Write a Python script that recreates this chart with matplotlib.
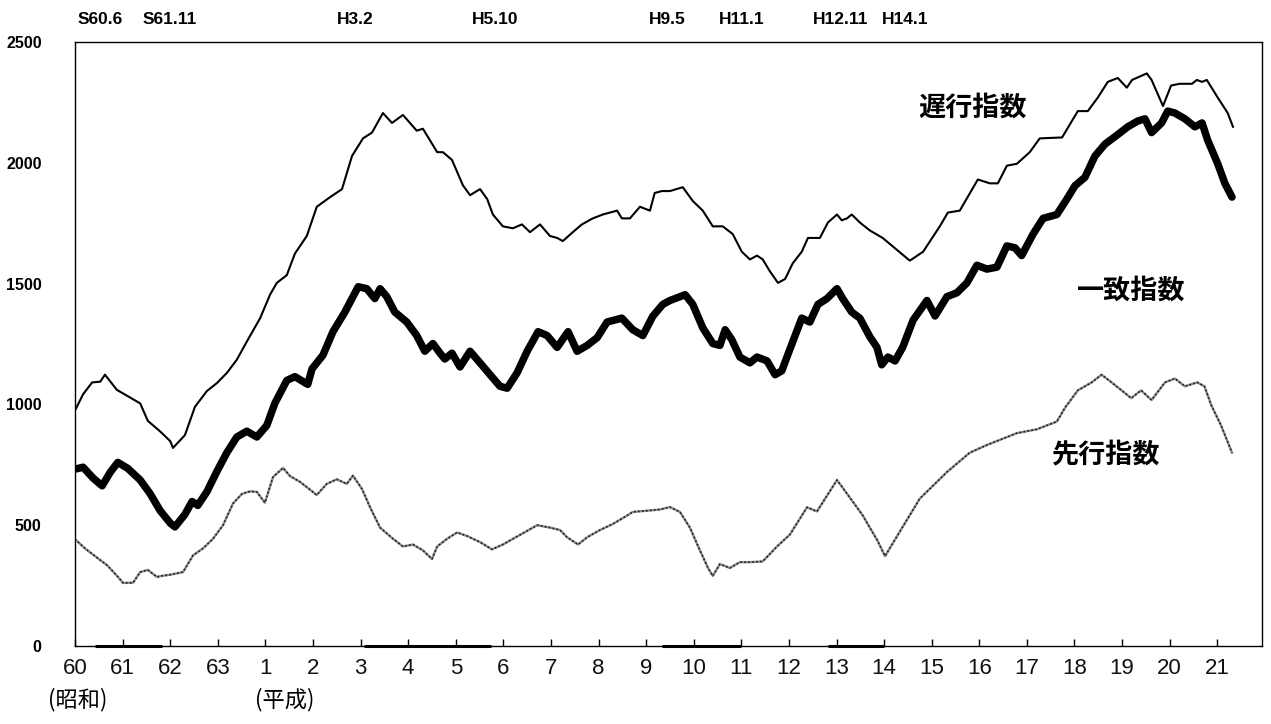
import matplotlib
matplotlib.use('Agg')
import matplotlib.pyplot as plt

plt.rcParams['font.family'] = ['Liberation Sans', 'Noto Sans CJK JP', 'DejaVu Sans']
CJK = ['Noto Sans CJK JP', 'DejaVu Sans']

# x = years elapsed since S60.1 (Jan 1985)
year_labels = ['60', '61', '62', '63', '1', '2', '3', '4', '5', '6', '7', '8', '9',
               '10', '11', '12', '13', '14', '15', '16', '17', '18', '19', '20', '21']

# 遅行指数 (lagging)
lag_t = [0.00, 0.17, 0.36, 0.53, 0.63, 0.88, 1.11, 1.37, 1.53, 1.79, 2.00, 2.06, 2.31, 2.52,
         2.77, 2.98, 3.19, 3.40, 3.61, 3.89, 4.10, 4.24, 4.45, 4.62, 4.87, 5.08, 5.36, 5.61,
         5.82, 6.05, 6.24, 6.47, 6.66, 6.89, 7.18, 7.31, 7.61, 7.73, 7.92, 8.15, 8.30, 8.51,
         8.66, 8.78, 8.99, 9.20, 9.39, 9.56, 9.77, 9.98, 10.13, 10.25, 10.46, 10.65, 10.88,
         11.09, 11.39, 11.49, 11.66, 11.87, 12.08, 12.18, 12.33, 12.50, 12.77, 12.98, 13.19,
         13.40, 13.61, 13.82, 14.01, 14.18, 14.33, 14.45, 14.60, 14.77, 14.92, 15.08, 15.27,
         15.40, 15.65, 15.82, 16.01, 16.11, 16.22, 16.32, 16.49, 16.70, 16.97, 17.54, 17.82,
         18.17, 18.34, 18.59, 18.97, 19.22, 19.39, 19.58, 19.79, 20.06, 20.27, 20.74, 21.07,
         21.28, 21.49, 21.70, 21.91, 22.10, 22.21, 22.52, 22.62, 22.86, 23.03, 23.21, 23.47,
         23.57, 23.68, 23.78, 24.01, 24.22, 24.33]
lag_v = [975, 1042, 1091, 1094, 1123, 1060, 1034, 1004, 932, 888, 848, 820, 873, 990,
         1055, 1088, 1130, 1185, 1260, 1357, 1455, 1503, 1535, 1624, 1697, 1818, 1858, 1891,
         2028, 2101, 2125, 2206, 2165, 2198, 2133, 2141, 2044, 2044, 2012, 1907, 1866, 1891,
         1850, 1786, 1737, 1729, 1745, 1713, 1745, 1697, 1689, 1676, 1713, 1745, 1770,
         1786, 1802, 1770, 1770, 1818, 1802, 1875, 1883, 1883, 1899, 1842, 1802,
         1737, 1737, 1705, 1632, 1600, 1616, 1600, 1551, 1503, 1519, 1584, 1632,
         1689, 1689, 1753, 1786, 1762, 1770, 1786, 1753, 1720, 1689, 1595, 1632,
         1737, 1794, 1802, 1931, 1915, 1915, 1988, 1996, 2044, 2101, 2105, 2214,
         2214, 2270, 2335, 2351, 2311, 2343, 2370, 2343, 2235, 2320, 2327, 2327,
         2343, 2335, 2343, 2270, 2206, 2149]

# 一致指数 (coincident)
coin_t = [0.00, 0.17, 0.38, 0.57, 0.74, 0.90, 1.11, 1.37, 1.58, 1.79, 2.00, 2.10, 2.31, 2.46,
          2.58, 2.77, 2.98, 3.19, 3.40, 3.61, 3.82, 4.03, 4.20, 4.45, 4.62, 4.89, 4.98, 5.21,
          5.42, 5.67, 5.95, 6.13, 6.30, 6.41, 6.55, 6.72, 6.97, 7.18, 7.35, 7.52, 7.67, 7.77,
          7.92, 8.09, 8.30, 8.51, 8.72, 8.93, 9.08, 9.29, 9.50, 9.73, 9.92, 10.13, 10.36,
          10.55, 10.76, 10.97, 11.18, 11.49, 11.72, 11.93, 12.14, 12.35, 12.50, 12.82, 12.98,
          13.19, 13.40, 13.55, 13.66, 13.80, 13.97, 14.18, 14.33, 14.54, 14.71, 14.85, 15.02,
          15.27, 15.44, 15.61, 15.80, 16.01, 16.13, 16.32, 16.49, 16.70, 16.85, 16.95, 17.08,
          17.23, 17.39, 17.61, 17.90, 18.07, 18.32, 18.53, 18.74, 18.95, 19.16, 19.37, 19.58,
          19.75, 19.89, 20.13, 20.34, 20.63, 20.84, 21.01, 21.22, 21.43, 21.64, 21.91, 22.12,
          22.33, 22.48, 22.62, 22.83, 22.96, 23.11, 23.32, 23.53, 23.68, 23.80, 24.01, 24.16,
          24.31]
coin_v = [732, 740, 695, 663, 719, 760, 735, 687, 630, 560, 509, 493, 545, 598,
          582, 638, 722, 800, 865, 889, 865, 913, 1005, 1099, 1115, 1083, 1147, 1204,
          1301, 1382, 1487, 1479, 1438, 1479, 1446, 1382, 1341, 1285, 1220, 1252, 1212, 1188,
          1212, 1155, 1220, 1172, 1123, 1075, 1067, 1131, 1220, 1301, 1285, 1236, 1301,
          1220, 1244, 1276, 1341, 1357, 1309, 1285, 1365, 1414, 1430, 1454, 1414,
          1317, 1252, 1244, 1309, 1268, 1196, 1172, 1196, 1180, 1123, 1139, 1228,
          1357, 1341, 1414, 1438, 1479, 1438, 1382, 1357, 1280, 1236, 1164, 1196,
          1180, 1236, 1349, 1430, 1366, 1446, 1462, 1503, 1576, 1560, 1568, 1656,
          1648, 1616, 1705, 1770, 1786, 1850, 1905, 1940, 2028, 2077, 2117, 2149,
          2173, 2182, 2125, 2165, 2214, 2206, 2182, 2149, 2165, 2093, 1996, 1915,
          1858]

# 先行指数 (leading)
lead_t = [0.00, 0.21, 0.42, 0.67, 0.88, 1.01, 1.22, 1.37, 1.53, 1.72, 1.85, 2.00, 2.27, 2.48,
          2.69, 2.90, 3.11, 3.32, 3.51, 3.68, 3.82, 3.99, 4.16, 4.37, 4.52, 4.73, 5.08, 5.29,
          5.50, 5.71, 5.84, 6.03, 6.20, 6.41, 6.68, 6.89, 7.10, 7.31, 7.50, 7.61, 7.82, 8.03,
          8.24, 8.51, 8.76, 8.99, 9.35, 9.71, 9.98, 10.19, 10.34, 10.57, 10.76, 11.03, 11.30,
          11.60, 11.72, 12.02, 12.29, 12.50, 12.71, 12.92, 13.13, 13.30, 13.40, 13.55, 13.76,
          13.97, 14.18, 14.45, 14.75, 15.02, 15.38, 15.59, 15.80, 16.01, 16.13, 16.34, 16.55,
          16.70, 16.85, 17.02, 17.39, 17.75, 18.32, 18.80, 19.16, 19.79, 20.21, 20.63, 20.80,
          21.07, 21.36, 21.57, 21.78, 21.99, 22.19, 22.40, 22.62, 22.90, 23.11, 23.32, 23.58,
          23.73, 23.88, 24.08, 24.31]
lead_v = [442, 404, 372, 335, 291, 261, 262, 306, 315, 286, 291, 295, 306, 375,
          404, 444, 500, 590, 630, 640, 638, 593, 699, 737, 703, 679, 625, 671,
          690, 671, 705, 650, 574, 490, 444, 412, 420, 396, 360, 412, 444, 470,
          455, 430, 400, 420, 460, 500, 490, 480, 450, 420, 450, 480, 505,
          540, 555, 560, 565, 575, 555, 490, 396, 323, 290, 339, 323,
          347, 347, 350, 412, 461, 574, 557, 622, 687, 655, 598, 541,
          490, 440, 372, 493, 610, 720, 800, 832, 881, 897, 929, 986,
          1058, 1091, 1123, 1091, 1058, 1026, 1058, 1018, 1091, 1107, 1075, 1091,
          1075, 994, 913, 800]

# business-cycle turning points (years since S60.1) and their header labels
turn_labels = ['S60.6', 'S61.11', 'H3.2', 'H5.10', 'H9.5', 'H11.1', 'H12.11', 'H14.1']
turn_label_x = [0.52, 1.98, 5.88, 8.82, 12.44, 14.01, 16.09, 17.44]
recessions = [(0.42, 1.83), (6.08, 8.75), (12.33, 14.00), (15.83, 17.00)]

W, H = 1271, 724
fig = plt.figure(figsize=(W / 100, H / 100), dpi=100)
ax = fig.add_axes([75 / W, 1 - 646 / H, (1262 - 75) / W, 604 / H])
ax.set_xlim(0, 24.94)
ax.set_ylim(0, 2500)

ax.plot(lead_t, lead_v, color='#8a8a8a', lw=1.7, zorder=2)
ax.plot(lead_t, lead_v, color='#1e1e1e', lw=1.2, ls=(0, (1.0, 1.4)), zorder=3)
ax.plot(lag_t, lag_v, color='black', lw=1.5, zorder=4)
ax.plot(coin_t, coin_v, color='black', lw=5.4, solid_joinstyle='round',
        solid_capstyle='round', zorder=5)

for s, e in recessions:
    ax.plot([s, e], [0, 0], color='black', lw=2.2, solid_capstyle='butt',
            clip_on=False, zorder=6)

for sp in ax.spines.values():
    sp.set_linewidth(1.0)
    sp.set_color('black')

ax.set_yticks(range(0, 2501, 500))
ax.set_yticklabels([str(v) for v in range(0, 2501, 500)], fontsize=11.5, fontweight='bold')
ax.tick_params(axis='y', length=0, pad=24)

ax.set_xticks(range(len(year_labels)))
ax.set_xticklabels(year_labels, fontsize=16, color='#111111')
ax.tick_params(axis='x', direction='in', length=5, width=1, pad=9)

for lab, x in zip(turn_labels, turn_label_x):
    ax.text(x, 1.038, lab, transform=ax.get_xaxis_transform(), ha='center', va='center',
            fontsize=12.5, fontweight='bold')

ax.text(0.06, -0.089, '(昭和)', transform=ax.get_xaxis_transform(), ha='center',
        va='center', fontsize=16, family=CJK)
ax.text(4.41, -0.089, '(平成)', transform=ax.get_xaxis_transform(), ha='center',
        va='center', fontsize=16, family=CJK)

ax.text(18.86, 2230, '遅行指数', ha='center', va='center', fontsize=19.5,
        fontweight='bold', family=CJK)
ax.text(22.2, 1470, '一致指数', ha='center', va='center', fontsize=19.5,
        fontweight='bold', family=CJK)
ax.text(21.66, 790, '先行指数', ha='center', va='center', fontsize=19.5,
        fontweight='bold', family=CJK)

fig.savefig('out.png', dpi=100)
